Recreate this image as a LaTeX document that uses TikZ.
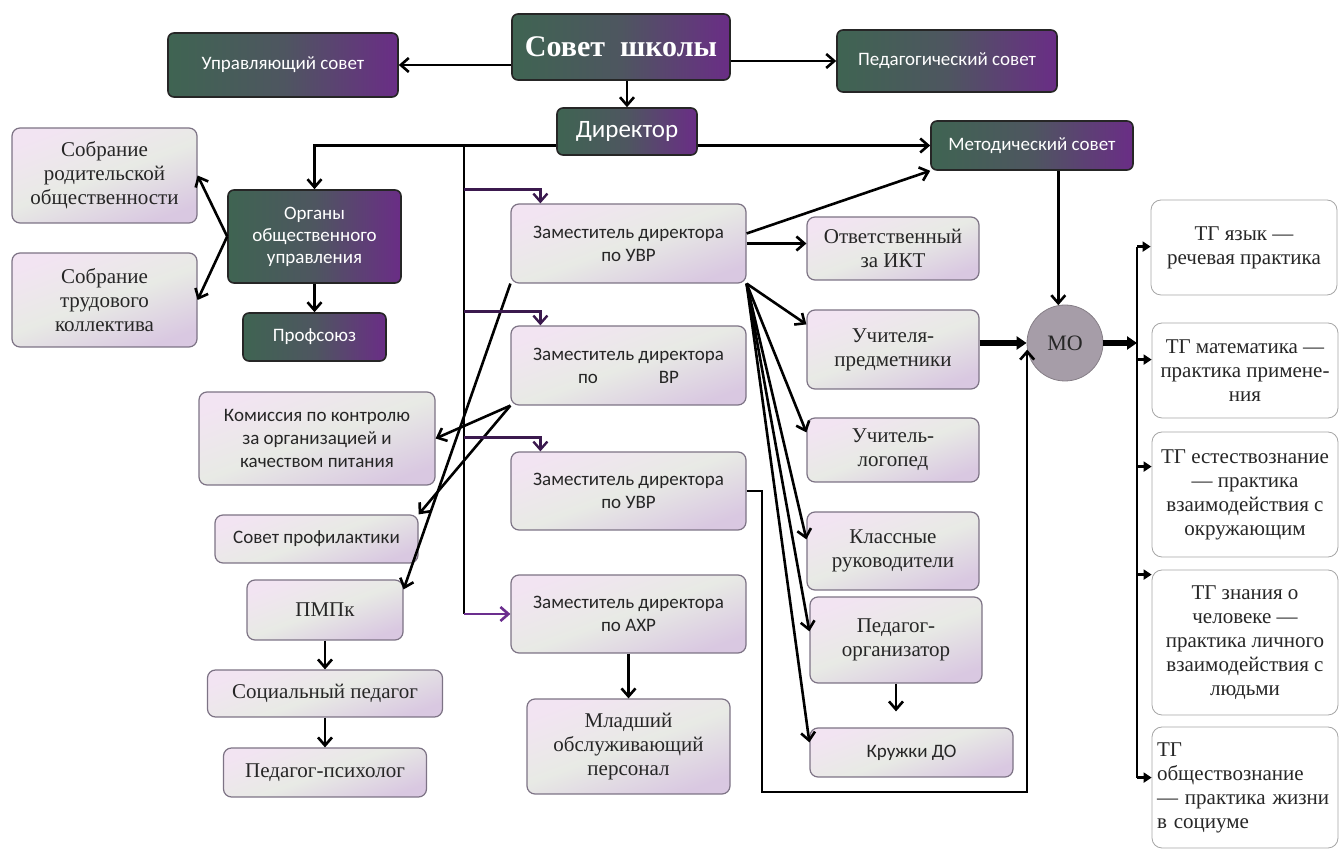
\documentclass[tikz,border=0pt]{standalone}
\usepackage{fontspec}
\setmainfont{Liberation Serif}
\newfontfamily\calibri{Carlito}
\usetikzlibrary{positioning}
\usetikzlibrary{arrows.meta}
\definecolor{dkgreen}{HTML}{3F6452}
\definecolor{dkpurple}{HTML}{6A2D86}
\definecolor{dkgray}{HTML}{4E5660}
\definecolor{lavtop}{HTML}{F2E4F2}
\definecolor{lavmid}{HTML}{E8EAE5}
\definecolor{lavbot}{HTML}{D9C8E1}
\definecolor{boxline}{HTML}{7D7385}
\definecolor{arrpurple}{HTML}{6B2E8E}
\definecolor{mogray}{HTML}{A69DA8}

\begin{document}
\begin{tikzpicture}[x=0.5pt,y=0.5pt,on grid,
  >={Straight Barb[length=4pt,width=7pt]},
  darkbox/.style={draw=black!85,rounded corners=3pt,line width=0.8pt,
    left color=dkgreen,right color=dkpurple,middle color=dkgray,
    text=white,font=\calibri\fontsize{9.5}{11}\selectfont,align=center,inner sep=2pt},
  lightbox/.style={draw=boxline,rounded corners=4pt,line width=0.6pt,
    top color=lavtop,bottom color=lavbot,middle color=lavmid,shading angle=20,
    text=black!85,font=\fontsize{10.5}{12}\selectfont,align=center,inner sep=2pt},
  sansbox/.style={lightbox,font=\calibri\fontsize{9.5}{11.5}\selectfont},
  tgbox/.style={draw=black!35,rounded corners=5pt,fill=white,text=black!85,
    font=\fontsize{10.5}{12}\selectfont,align=center,inner sep=2pt,
    minimum width=93pt},
  link/.style={->,line width=1.3pt},
  fatlink/.style={-{Triangle[length=5pt,width=6.5pt]},line width=2.6pt}]
   \useasboundingbox (0,0) rectangle (1341,-849);

   % top level
   \node[darkbox,minimum width=115pt,minimum height=32pt] (uprs) at (283,-65) {Управляющий совет};
   \node[darkbox,minimum width=109pt,minimum height=33pt,font=\bfseries\fontsize{15}{18}\selectfont] (sovet) at (621,-47) {Совет\ \ школы};
   \node[darkbox,minimum width=110pt,minimum height=31pt] (peds) at (947,-61) {Педагогический совет};
   \node[darkbox,minimum width=70pt,minimum height=23.5pt,font=\calibri\fontsize{12.5}{14}\selectfont] (dir) at (627,-131.5) {Директор};
   \node[darkbox,minimum width=101pt,minimum height=24.5pt] (mets) at (1032,-145.5) {Методический совет};

   % left side
   \node[darkbox,minimum width=86.5pt,minimum height=46.5pt] (organy) at (314.5,-236.5) {Органы\\общественного\\управления};
   \node[darkbox,minimum width=71.5pt,minimum height=24pt] (profs) [below=50.25pt of organy] {Профсоюз};
   \node[lightbox,minimum width=92.5pt,minimum height=47.5pt] (sobr1) at (104.5,-175.5) {Собрание\\родительской\\общественности};
   \node[lightbox,minimum width=92.5pt,minimum height=47pt] (sobr2) at (104.5,-300) {Собрание\\трудового\\коллектива};
   \node[sansbox,minimum width=118pt,minimum height=46.5pt] (komis) at (317,-438.5) {Комиссия по контролю\\за организацией и\\качеством питания};
   \node[sansbox,minimum width=101.5pt,minimum height=24pt] (profil) at (316.5,-539) {Совет профилактики};
   \node[lightbox,minimum width=78pt,minimum height=30pt] (pmpk) at (325,-610) {ПМПк};
   \node[lightbox,minimum width=117.5pt,minimum height=23.5pt] (socped) [below=41.75pt of pmpk] {Социальный педагог};
   \node[lightbox,minimum width=101.5pt,minimum height=24.5pt] (psych) [below=39.5pt of socped] {Педагог-психолог};

   % deputies
   \node[sansbox,minimum width=117.5pt,minimum height=39.5pt] (zuvr) at (628.5,-243.5) {Заместитель директора\\по УВР};
   \node[sansbox,minimum width=117.5pt,minimum height=39.5pt] (zvr) [below=61pt of zuvr] {Заместитель директора\\по\hspace{3.2em}ВР};
   \node[sansbox,minimum width=117.5pt,minimum height=39pt] (zuvrb) [below=62.75pt of zvr] {Заместитель директора\\по УВР};
   \node[sansbox,minimum width=117.5pt,minimum height=39pt] (zahr) [below=61.5pt of zuvrb] {Заместитель директора\\по АХР};
   \node[lightbox,minimum width=101.5pt,minimum height=47.5pt] (mladsh) [below=66.25pt of zahr] {Младший\\обслуживающий\\персонал};

   % staff
   \node[lightbox,minimum width=86pt,minimum height=31.5pt] (ikt) at (893,-248.5) {Ответственный\\за ИКТ};
   \node[lightbox,minimum width=86pt,minimum height=39.5pt] (uchp) [below=50.5pt of ikt] {Учителя-\\предметники};
   \node[lightbox,minimum width=86pt,minimum height=32pt] (logo) [below=50.25pt of uchp] {Учитель-\\логопед};
   \node[lightbox,minimum width=86pt,minimum height=39pt] (klass) [below=50.5pt of logo] {Классные\\руководители};
   \node[lightbox,minimum width=86pt,minimum height=43pt] (pedorg) at (896,-640) {Педагог-\\организатор};
   \node[sansbox,minimum width=101.5pt,minimum height=24.5pt] (kruzh) at (911.5,-752.5) {Кружки ДО};

   \node[circle,minimum size=38pt,inner sep=0pt,fill=mogray,draw=mogray!80!black,text=black!85,font=\fontsize{11}{12}\selectfont] (mo) at (1065,-343) {МО};

   % teacher groups
   \node[tgbox,minimum height=47.5pt] (tg1) at (1244,-247.5) {ТГ язык —\\речевая практика};
   \node[tgbox,minimum height=47.5pt] (tg2) at (1245,-370.5) {ТГ математика —\\практика примене-\\ния};
   \node[tgbox,minimum height=62.5pt] (tg3) at (1245,-494.5) {ТГ естествознание\\— практика\\взаимодействия с\\окружающим};
   \node[tgbox,minimum height=72.5pt] (tg4) at (1245,-642.5) {ТГ знания о\\человеке —\\практика личного\\взаимодействия с\\людьми};
   \node[tgbox,minimum height=60.5pt,align=left,text width=88pt] (tg5) at (1245,-787.5) {ТГ\\обществознание\\— практика жизни\\в социуме};

   \coordinate (trunk) at (464,-145.5);
   \coordinate (loopc) at (762,-792);
   \coordinate (bus) at (1137,-343);

   \path[link]
    (sovet.west |- uprs) edge (uprs.east)
    (sovet.east |- peds) edge (peds.west)
    (dir.north |- sovet.south) edge (dir.north)
    (dir.east |- mets) edge (mets.west)
    (organy.west) edge (sobr1.east)
    (organy.west) edge (sobr2.east)
    (organy) edge (profs)
    (pmpk) edge (socped)
    (socped) edge (psych)
    (zahr) edge (mladsh)
    ([yshift=5pt]zuvr.east) edge (mets.south west)
    (zuvr.east) edge (zuvr.east -| ikt.west)
    (zuvr.south west) edge ([yshift=-5pt]pmpk.north east)
    (zvr.south west) edge (komis.east)
    (zvr.south west) edge (profil.north east)
    (mo.100 |- mets.south) edge (mo.100);
   \draw[link] (dir.west |- mets) -| (organy.north);

   % director's line down to the deputies
   \draw[line width=1.3pt] (trunk) -- (trunk |- zahr);
   \draw[link,arrpurple] (trunk |- zahr) -- (zahr.west);
   \foreach \z in {zuvr,zvr,zuvrb} {
     \path ([shift={(15pt,7pt)}]\z.north west) coordinate (t\z);
     \draw[link,line width=1.2pt,draw=arrpurple!55!black] (trunk |- t\z) -| (\z.north west -| t\z);
   }

   \foreach \t/\d in {uchp/-7.5pt,logo/-7.5pt,klass/-14pt,pedorg/-17.5pt,kruzh/-7.5pt}
     \draw[link] (zuvr.south east) -- ([yshift=\d]\t.north west);
   \draw[link,shorten >=8pt] (pedorg.south) -- (pedorg.south |- kruzh.north);

   \draw[link] (zuvrb.east) -| (loopc) -| (mo.190);
   \draw[fatlink] (uchp.east |- mo) -- (mo.west);
   \draw[fatlink] (mo.east) -- (bus);

   % groups
   \foreach \t/\d in {tg1/-23.5pt,tg2/-18.5pt,tg3/-17.5pt,tg4/-2.5pt,tg5/-25.5pt}
     \path ([yshift=\d]\t.north west) coordinate (a\t);
   \draw[line width=1.3pt] (bus |- atg1) -- (bus |- atg5);
   \foreach \t in {tg1,tg2,tg3,tg4,tg5}
     \draw[-{Triangle[length=4pt,width=5pt]},line width=1.8pt] (bus |- a\t) -- (a\t);
\end{tikzpicture}
\end{document}
